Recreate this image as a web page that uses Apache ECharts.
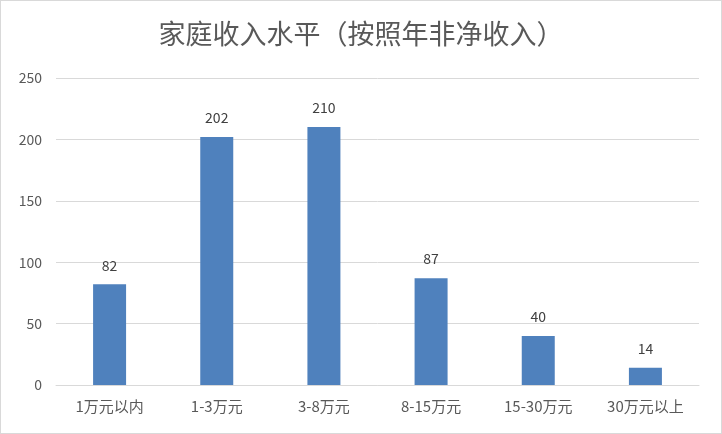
<!DOCTYPE html>
<html>
<head>
<meta charset="utf-8">
<title>家庭收入水平</title>
<script src="https://cdn.jsdelivr.net/npm/echarts@6/dist/echarts.min.js"></script>
<style>
html, body { margin: 0; padding: 0; background: #fff; }
#main { width: 720px; height: 432px; border: 1px solid #d9d9d9; }
</style>
</head>
<body>
<div id="main"></div>
<script type="text/javascript">
var categories = ['1万元以内', '1-3万元', '3-8万元', '8-15万元', '15-30万元', '30万元以上'];
var households = [82, 202, 210, 87, 40, 14];
var yTicks = { min: 0, max: 250, interval: 50 };

var myChart = echarts.init(document.getElementById('main'));
var font = '"Noto Sans CJK SC", "Microsoft YaHei", sans-serif';

myChart.setOption({
    animation: false,
    title: {
        text: '家庭收入水平（按照年非净收入）',
        left: 'center',
        top: 14,
        textStyle: { fontFamily: font, fontSize: 27, fontWeight: 'normal', color: '#595959' }
    },
    grid: { left: 55, right: 22, top: 77, bottom: 48 },
    xAxis: {
        type: 'category',
        data: categories,
        axisLine: { lineStyle: { color: '#d9d9d9', width: 1 } },
        axisTick: { show: false },
        axisLabel: { fontFamily: font, fontSize: 15, color: '#595959', margin: 14 }
    },
    yAxis: {
        type: 'value',
        min: yTicks.min,
        max: yTicks.max,
        interval: yTicks.interval,
        axisLine: { show: false },
        axisTick: { show: false },
        splitLine: { lineStyle: { color: '#d9d9d9', width: 1 } },
        axisLabel: { fontFamily: font, fontSize: 14, color: '#595959', margin: 14 }
    },
    series: [{
        type: 'bar',
        data: households,
        barWidth: 33,
        itemStyle: { color: '#4f81bd' },
        label: {
            show: true,
            position: 'top',
            distance: 12,
            fontFamily: font,
            fontSize: 14,
            color: '#404040'
        }
    }]
});
</script>
</body>
</html>
